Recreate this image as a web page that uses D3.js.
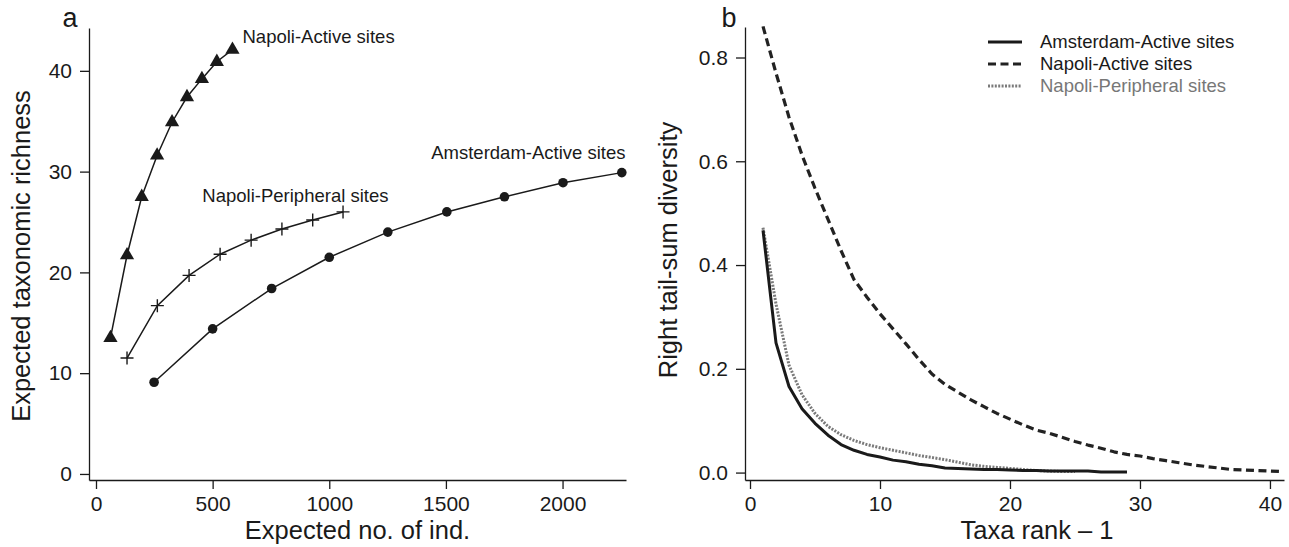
<!DOCTYPE html>
<html>
<head>
<meta charset="utf-8">
<script src="https://cdn.jsdelivr.net/npm/d3@7"></script>
<style>
body { margin: 0; background: #fff; }
text { font-family: "Liberation Sans", Arial, Helvetica, sans-serif; fill: #1a1a1a; }
</style>
</head>
<body>
<svg id="chart" width="1289" height="547"></svg>
<script>
// panel a - rarefaction curves (expected no. of ind. vs expected richness)
var napoliActiveN = [62, 133, 196, 262, 326, 390, 454, 518, 585]
var napoliActiveS = [13.5, 21.7, 27.5, 31.6, 34.9, 37.4, 39.2, 40.9, 42.1]
var napoliPeriphN = [133, 263, 399, 532, 665, 797, 929, 1059]
var napoliPeriphS = [11.5, 16.7, 19.7, 21.8, 23.2, 24.3, 25.2, 26.0]
var amsterdamN = [249, 500, 753, 1000, 1251, 1504, 1751, 2002, 2254]
var amsterdamS = [9.1, 14.4, 18.4, 21.5, 24.0, 26.0, 27.5, 28.9, 29.9]

// panel b - right tail-sum diversity, one value per taxa rank - 1 (starting at 1)
var amsterdamTail = [0.467, 0.250, 0.166, 0.123, 0.095, 0.072, 0.054, 0.043, 0.035, 0.030,
	0.024, 0.021, 0.016, 0.013, 0.009, 0.008, 0.007, 0.006, 0.006, 0.005,
	0.004, 0.004, 0.003, 0.003, 0.003, 0.003, 0.001, 0.001, 0.001]
var napoliActiveTail = [0.860, 0.770, 0.685, 0.612, 0.548, 0.488, 0.428, 0.372, 0.338, 0.306,
	0.277, 0.248, 0.218, 0.190, 0.170, 0.155, 0.140, 0.127, 0.114, 0.103,
	0.092, 0.082, 0.076, 0.068, 0.060, 0.053, 0.047, 0.040, 0.035, 0.032,
	0.027, 0.023, 0.019, 0.015, 0.012, 0.009, 0.006, 0.005, 0.004, 0.003, 0.002]
var napoliPeriphTail = [0.472, 0.325, 0.207, 0.150, 0.114, 0.089, 0.073, 0.062, 0.054, 0.048,
	0.043, 0.038, 0.033, 0.029, 0.025, 0.020, 0.015, 0.012, 0.010, 0.008,
	0.006, 0.004, 0.003, 0.002, 0.002]

var xTicksA = [0, 500, 1000, 1500, 2000]
var yTicksA = [0, 10, 20, 30, 40]
var xTicksB = [0, 10, 20, 30, 40]
var yTicksB = [0, 0.2, 0.4, 0.6, 0.8]

var svg = d3.select("#chart")
var INK = "#1a1a1a"

var styleAxis = (g) => {
	g.select(".domain").attr("stroke", INK).attr("stroke-width", 1.3)
	g.selectAll(".tick line").attr("stroke", INK).attr("stroke-width", 1.3)
	g.selectAll(".tick text").attr("font-size", 21).attr("fill", INK)
		.attr("font-family", "'Liberation Sans', Arial, sans-serif")
}

var drawAxes = (x, y, xt, yt, yfmt) => {
	svg.append("g")
		.attr("transform", "translate(0," + y.range()[0] + ")")
		.call(d3.axisBottom(x).tickValues(xt).tickSize(9).tickPadding(7).tickSizeOuter(0).tickFormat(d3.format("d")))
		.call(styleAxis)
	svg.append("g")
		.attr("transform", "translate(" + x.range()[0] + ",0)")
		.call(d3.axisLeft(y).tickValues(yt).tickSize(9).tickPadding(8).tickSizeOuter(0).tickFormat(yfmt))
		.call(styleAxis)
}

// ---------- panel a ----------
var xA = d3.scaleLinear().domain([-30, 2272]).range([89, 626])
var yA = d3.scaleLinear().domain([-0.6, 44.25]).range([480, 28])
drawAxes(xA, yA, xTicksA, yTicksA, d3.format("d"))

var lineA = d3.line().x(d => xA(d[0])).y(d => yA(d[1]))
var seriesA = [
	{ pts: d3.zip(napoliActiveN, napoliActiveS), mark: "tri" },
	{ pts: d3.zip(napoliPeriphN, napoliPeriphS), mark: "plus" },
	{ pts: d3.zip(amsterdamN, amsterdamS), mark: "dot" }
]
seriesA.forEach(s => {
	svg.append("path").datum(s.pts)
		.attr("d", lineA)
		.attr("fill", "none")
		.attr("stroke", INK)
		.attr("stroke-width", 1.5)
	var g = svg.append("g")
	if (s.mark === "tri") {
		g.selectAll("path").data(s.pts).enter().append("path")
			.attr("d", d3.symbol(d3.symbolTriangle, 88))
			.attr("transform", d => "translate(" + xA(d[0]) + "," + yA(d[1]) + ")")
			.attr("fill", INK)
	} else if (s.mark === "plus") {
		g.selectAll("path").data(s.pts).enter().append("path")
			.attr("d", "M-6.5,0H6.5M0,-6.5V6.5")
			.attr("transform", d => "translate(" + xA(d[0]) + "," + yA(d[1]) + ")")
			.attr("stroke", INK)
			.attr("stroke-width", 1.4)
	} else {
		g.selectAll("circle").data(s.pts).enter().append("circle")
			.attr("cx", d => xA(d[0]))
			.attr("cy", d => yA(d[1]))
			.attr("r", 4.8)
			.attr("fill", INK)
	}
})

// curve labels (data units)
var labelsA = [
	{ text: "Napoli-Active sites", x: 628, y: 43.4, anchor: "start" },
	{ text: "Napoli-Peripheral sites", x: 456, y: 27.6, anchor: "start" },
	{ text: "Amsterdam-Active sites", x: 2270, y: 31.9, anchor: "end" }
]
svg.append("g").selectAll("text").data(labelsA).enter().append("text")
	.attr("x", d => xA(d.x))
	.attr("y", d => yA(d.y))
	.attr("dy", "0.35em")
	.attr("text-anchor", d => d.anchor)
	.attr("font-size", 18.5)
	.text(d => d.text)

svg.append("text").attr("x", 70).attr("y", 27).attr("text-anchor", "middle")
	.attr("font-size", 27).text("a")
svg.append("text").attr("x", 357.5).attr("y", 539).attr("text-anchor", "middle")
	.attr("font-size", 25.5).text("Expected no. of ind.")
svg.append("text").attr("transform", "translate(21,256) rotate(-90)")
	.attr("dy", "0.35em").attr("text-anchor", "middle")
	.attr("font-size", 25.5).text("Expected taxonomic richness")

// ---------- panel b ----------
var xB = d3.scaleLinear().domain([-0.385, 41.08]).range([745, 1284])
var yB = d3.scaleLinear().domain([-0.0143, 0.8588]).range([480, 27])
drawAxes(xB, yB, xTicksB, yTicksB, d3.format(".1f"))

var lineB = d3.line().x((d, i) => xB(i + 1)).y(d => yB(d))
var seriesB = [
	{ name: "Amsterdam-Active sites", values: amsterdamTail, color: INK, dash: null, width: 3, text: INK },
	{ name: "Napoli-Active sites", values: napoliActiveTail, color: "#222", dash: "8,4.5", width: 3.2, text: INK },
	{ name: "Napoli-Peripheral sites", values: napoliPeriphTail, color: "#7a7a7a", dash: "2,1.4", width: 3, text: "#777" }
]
// draw peripheral first so black lines sit on top
seriesB.slice().reverse().forEach(s => {
	svg.append("path").datum(s.values)
		.attr("d", lineB)
		.attr("fill", "none")
		.attr("stroke", s.color)
		.attr("stroke-width", s.width)
		.attr("stroke-dasharray", s.dash)
		.attr("stroke-linejoin", "round")
})

var legend = svg.append("g").attr("transform", "translate(988,42)")
var rows = legend.selectAll("g").data(seriesB).enter().append("g")
	.attr("transform", (d, i) => "translate(0," + i * 22 + ")")
rows.append("line")
	.attr("x1", 0).attr("x2", 34)
	.attr("stroke", d => d.color)
	.attr("stroke-width", d => d.width)
	.attr("stroke-dasharray", d => d.dash)
rows.append("text")
	.attr("x", 52).attr("dy", "0.35em")
	.attr("font-size", 18.5)
	.style("fill", d => d.text)
	.text(d => d.name)

svg.append("text").attr("x", 729).attr("y", 27).attr("text-anchor", "middle")
	.attr("font-size", 27).text("b")
svg.append("text").attr("x", 1037).attr("y", 539).attr("text-anchor", "middle")
	.attr("font-size", 25.5).text("Taxa rank \u2013 1")
svg.append("text").attr("transform", "translate(668,250) rotate(-90)")
	.attr("dy", "0.35em").attr("text-anchor", "middle")
	.attr("font-size", 25.5).text("Right tail-sum diversity")
</script>
</body>
</html>
